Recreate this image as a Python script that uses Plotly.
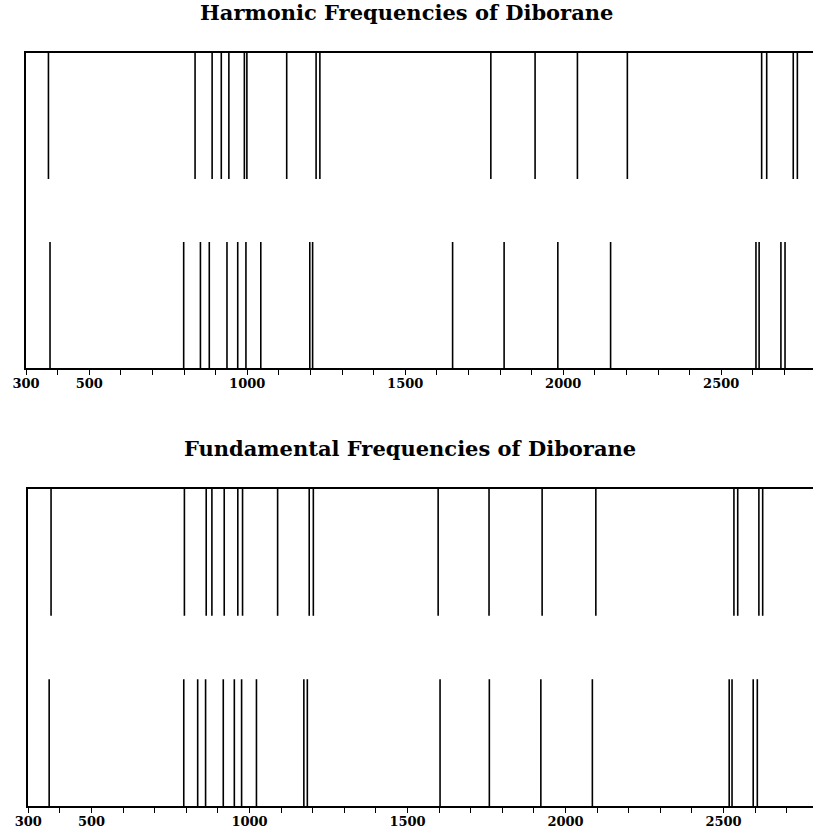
import plotly.graph_objects as go

# Harmonic frequencies (cm^-1), two sets
harm_upper = [371, 835, 889, 918, 942, 991, 999, 1125, 1218, 1230,
              1771, 1911, 2045, 2203, 2628, 2644, 2728, 2741]
harm_lower = [376, 799, 852, 880, 936, 970, 996, 1043, 1198, 1207,
              1650, 1813, 1983, 2150, 2610, 2620, 2689, 2702]
# Fundamental frequencies (cm^-1), two sets
fund_upper = [372, 794, 863, 881, 920, 963, 978, 1089, 1189, 1202,
              1597, 1758, 1926, 2096, 2533, 2545, 2612, 2624]
fund_lower = [366, 792, 836, 861, 917, 952, 975, 1022, 1172, 1183,
              1603, 1759, 1922, 2085, 2518, 2527, 2594, 2607]

tick_vals = list(range(300, 2701, 100))
labeled = {300: "300", 500: "500", 1000: "1000", 1500: "1500", 2000: "2000", 2500: "2500"}
tick_text = [labeled.get(v, "") for v in tick_vals]

titles = ["Harmonic Frequencies of Diborane", "Fundamental Frequencies of Diborane"]


def sticks(vals, y0, y1):
    xs, ys = [], []
    for v in vals:
        xs += [v, v, None]
        ys += [y0, y1, None]
    return xs, ys


W, H = 813, 829
fig = go.Figure()
line = dict(color="black", width=1.6)
for xa, ya, up, lo in [("x", "y", harm_upper, harm_lower), ("x2", "y2", fund_upper, fund_lower)]:
    xs, ys = sticks(up, 0.6, 1.0)
    fig.add_trace(go.Scatter(x=xs, y=ys, mode="lines", line=line, xaxis=xa, yaxis=ya,
                             hoverinfo="skip", showlegend=False))
    xs, ys = sticks(lo, 0.0, 0.4)
    fig.add_trace(go.Scatter(x=xs, y=ys, mode="lines", line=line, xaxis=xa, yaxis=ya,
                             hoverinfo="skip", showlegend=False))

scale = 0.316  # px per cm^-1
tickfont = dict(family="DejaVu Serif", size=13, color="black", weight="bold")


def xaxis(left_px, anchor):
    return dict(domain=[left_px / W, 1], range=[300, 300 + (W - left_px) / scale],
                tickvals=tick_vals, ticktext=tick_text, ticks="outside", ticklen=5,
                tickwidth=1.2, tickcolor="black", showline=True, linecolor="black",
                linewidth=1.5, mirror=True, showgrid=False, zeroline=False,
                ticklabelstandoff=-2,
                tickfont=tickfont, anchor=anchor, fixedrange=True, automargin=False)


def yaxis(top_px, bot_px, anchor):
    return dict(domain=[1 - bot_px / H, 1 - top_px / H], range=[0, 1], showticklabels=False,
                ticks="", showline=True, linecolor="black", linewidth=1.5, showgrid=False,
                zeroline=False, anchor=anchor, fixedrange=True, automargin=False)


title_font = dict(family="DejaVu Serif", size=21, color="black", weight="bold")

fig.update_layout(
    width=W, height=H, autosize=False,
    margin=dict(l=0, r=0, t=0, b=0, pad=0, autoexpand=False),
    paper_bgcolor="white", plot_bgcolor="white",
    xaxis=xaxis(26, "y"),
    yaxis=yaxis(53, 368, "x"),
    xaxis2=xaxis(28.3, "y2"),
    yaxis2=yaxis(489, 806, "x2"),
    annotations=[
        dict(text=titles[0], x=406 / W, y=1 - 13 / H, xref="paper", yref="paper",
             showarrow=False, xanchor="center", yanchor="middle", font=title_font),
        dict(text=titles[1], x=410 / W, y=1 - 449 / H, xref="paper", yref="paper",
             showarrow=False, xanchor="center", yanchor="middle", font=title_font),
    ],
)

fig.write_html("out.html", config={"displayModeBar": False},
               post_script="document.body.style.margin='0';document.body.style.overflow='hidden';")
